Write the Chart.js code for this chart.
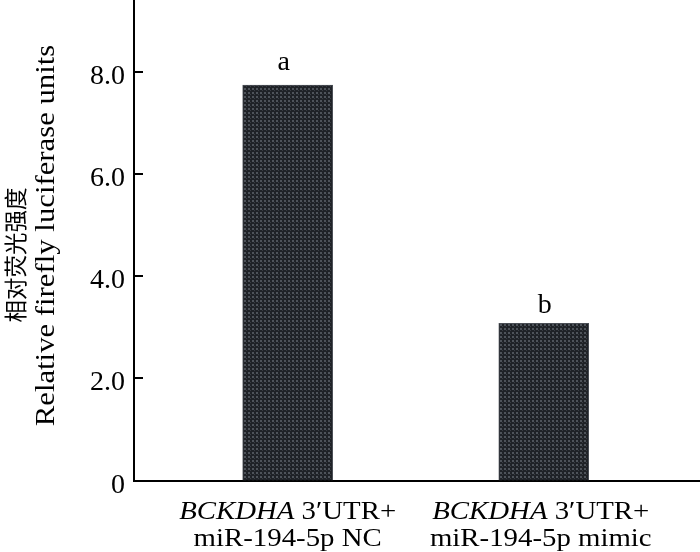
<!DOCTYPE html>
<html>
<head>
<meta charset="utf-8">
<script src="https://cdn.jsdelivr.net/npm/chart.js@4.4.1/dist/chart.umd.min.js"></script>
<style>
  html, body { margin: 0; padding: 0; background: #fff; }
  #wrap { width: 700px; height: 552px; }
</style>
</head>
<body>
<div id="wrap"><canvas id="c" width="700" height="552"></canvas></div>
<script>
// ---- data ----
const geneNames = ['BCKDHA', 'BCKDHA'];
const constructLabels = [' 3\u2032UTR+', ' 3\u2032UTR+'];
const treatmentLabels = ['miR-194-5p NC', 'miR-194-5p mimic'];
const categoryIndex = [1, 2];
const luciferaseValues = [7.75, 3.08];
const significanceLetters = ['a', 'b'];
const yTickValues = [0, 2, 4, 6, 8];
const yTickLabels = ['0', '2.0', '4.0', '6.0', '8.0'];
const yTitleZh = '相对荧光强度';
const yTitleEn = 'Relative firefly luciferase units';

const SERIF = '"Liberation Serif", "Times New Roman", Times, serif';
const CJK = '"Noto Sans CJK SC", sans-serif';
const WIDE = 1.13; // reference glyphs are slightly wider than Liberation Serif

function makePattern() {
  const p = document.createElement('canvas');
  p.width = 4; p.height = 4;
  const g = p.getContext('2d');
  g.fillStyle = '#1f2227';
  g.fillRect(0, 0, 4, 4);
  g.fillStyle = '#4e535a';
  g.fillRect(0, 0, 2, 2);
  g.fillStyle = '#3a3e44';
  g.fillRect(2, 2, 1, 1);
  return document.getElementById('c').getContext('2d').createPattern(p, 'repeat');
}

// draw a sequence of [text, font] runs centred at cx on baseline y, stretched horizontally by sx
function drawRuns(ctx, runs, cx, y, sx) {
  let total = 0;
  const widths = runs.map(([t, f]) => { ctx.font = f; const w = ctx.measureText(t).width; total += w; return w; });
  ctx.save();
  ctx.translate(cx, y);
  ctx.scale(sx, 1);
  ctx.textAlign = 'left';
  ctx.textBaseline = 'alphabetic';
  let x = -total / 2;
  runs.forEach(([t, f], i) => { ctx.font = f; ctx.fillText(t, x, 0); x += widths[i]; });
  ctx.restore();
}

const letterNudge = [[-4, -15], [1, -10]];

const annot = {
  id: 'annot',
  afterDraw(chart) {
    const ctx = chart.ctx;
    const xs = chart.scales.x, ys = chart.scales.y;
    const area = chart.chartArea;
    ctx.save();
    ctx.strokeStyle = '#000';
    ctx.fillStyle = '#000';
    ctx.lineWidth = 2;
    // inward tick marks + tick labels
    ctx.font = '28px ' + SERIF;
    ctx.textAlign = 'right';
    ctx.textBaseline = 'alphabetic';
    yTickValues.forEach((v, i) => {
      const y = Math.round(ys.getPixelForValue(v));
      if (v !== 0) {
        ctx.beginPath();
        ctx.moveTo(area.left, y);
        ctx.lineTo(area.left + 9, y);
        ctx.stroke();
      }
      ctx.fillText(yTickLabels[i], area.left - 9, y + 12);
    });
    // significance letters
    const meta = chart.getDatasetMeta(0);
    ctx.font = '28px ' + SERIF;
    ctx.textAlign = 'center';
    meta.data.forEach((bar, i) => {
      ctx.fillText(significanceLetters[i], bar.x + letterNudge[i][0], bar.y + letterNudge[i][1]);
    });
    // x category labels (italic gene name + normal)
    categoryIndex.forEach((c, i) => {
      const cx = xs.getPixelForValue(c) - (i === 0 ? 0 : 3);
      drawRuns(ctx, [[geneNames[i], 'italic 25.5px ' + SERIF], [constructLabels[i], '25.5px ' + SERIF]], cx, 519, WIDE);
      drawRuns(ctx, [[treatmentLabels[i], '25.5px ' + SERIF]], cx, 546, WIDE);
    });
    // y titles
    ctx.save();
    ctx.translate(54, 235.5);
    ctx.rotate(-Math.PI / 2);
    drawRuns(ctx, [[yTitleEn, '26.5px ' + SERIF]], 0, 0, 1.16);
    ctx.restore();
    ctx.save();
    ctx.translate(24, 255);
    ctx.rotate(-Math.PI / 2);
    ctx.textAlign = 'center';
    ctx.font = '22.5px ' + CJK;
    ctx.fillText(yTitleZh, 0, 0);
    ctx.restore();
    ctx.restore();
  }
};

function build() {
  new Chart(document.getElementById('c'), {
    type: 'bar',
    data: {
      datasets: [{
        data: categoryIndex.map((c, i) => ({ x: c, y: luciferaseValues[i] })),
        backgroundColor: makePattern(),
        borderColor: '#4a4e55',
        borderWidth: 1,
        barThickness: 90
      }]
    },
    options: {
      responsive: false,
      animation: false,
      devicePixelRatio: 1,
      layout: { padding: 0 },
      plugins: { legend: { display: false }, tooltip: { enabled: false } },
      scales: {
        x: {
          type: 'linear',
          offset: false,
          min: 0.4,
          max: 2.61,
          grid: { display: false },
          border: { display: true, color: '#000', width: 2 },
          ticks: { display: false },
          afterFit(s) { s.height = 71.5; }
        },
        y: {
          min: 0,
          max: 9.42,
          grid: { display: false },
          border: { display: true, color: '#000', width: 2 },
          afterBuildTicks(s) { s.ticks = yTickValues.map(v => ({ value: v })); },
          ticks: { display: false },
          afterFit(s) { s.width = 134; }
        }
      }
    },
    plugins: [annot]
  });
}

Promise.all([
  document.fonts.load('28px "Liberation Serif"'),
  document.fonts.load('italic 28px "Liberation Serif"'),
  document.fonts.load('23px "Noto Sans CJK SC"', '相对荧光强度')
]).then(build, build);
</script>
</body>
</html>
